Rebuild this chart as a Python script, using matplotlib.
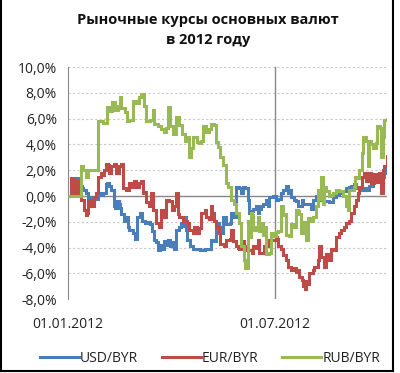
import matplotlib
matplotlib.use("Agg")
import matplotlib.pyplot as plt
from matplotlib.lines import Line2D
from matplotlib.ticker import FuncFormatter

plt.rcParams['font.family'] = ['Open Sans', 'DejaVu Sans']

# days since 01.01.2012, change of rate in %
usd_days = [0, 4, 5, 7, 9, 11, 12, 13, 14, 16, 18, 20, 22, 23, 25, 26, 29, 31, 33, 34,
            36, 38, 40, 41, 43, 45, 46, 47, 49, 51, 53, 54, 57, 59, 61, 63, 65, 68, 70, 72,
            74, 76, 77, 79, 81, 83, 84, 86, 88, 90, 91, 93, 95, 98, 99, 101, 102, 104, 105, 107,
            110, 116, 120, 124, 126, 128, 130, 133, 134, 136, 139, 142, 143, 145, 146, 148, 150, 152, 154, 156,
            158, 159, 161, 163, 165, 167, 168, 170, 171, 174, 176, 177, 180, 183, 185, 187, 189, 191, 192, 193,
            194, 196, 199, 200, 202, 205, 206, 207, 211, 214, 215, 218, 220, 224, 225, 229, 233, 236, 238, 242,
            244, 247, 249, 251, 253, 256, 258, 261, 264, 265, 268, 269, 273, 275, 277, 278, 280]
usd_vals = [0.0, 0.3, 1.0, 1.4, 1.2, 0.8, 0.6, 0.5, 0.5, 0.2, -0.1, -0.5, -0.6, -0.1, -0.2, 0.2, 0.1, 0.2, 0.9, 1.0,
            0.8, 0.5, -0.8, -0.9, -0.4, -0.6, -0.9, -1.4, -1.9, -1.6, -2.4, -2.6, -2.9, -3.3, -1.6, -1.3, -1.9, -2.1, -2.0, -2.2,
            -2.7, -3.4, -3.6, -4.2, -3.8, -4.1, -3.5, -3.8, -3.4, -3.9, -3.6, -4.1, -2.6, -2.4, -2.1, -2.3, -1.6, -2.6, -3.4, -3.9,
            -4.1, -4.2, -4.1, -4.1, -3.4, -3.5, -2.1, -2.4, -2.9, -1.6, -2.2, -2.1, -1.3, -1.3, -1.6, 0.7, 0.6, 0.2, 0.7, 0.6,
            -0.3, -1.3, -1.2, -1.0, -0.8, -1.3, -1.0, -0.8, -0.6, -0.3, -0.8, -0.1, 0.0, -0.3, -0.2, 0.2, 0.5, 0.5, 0.8, 0.2,
            0.5, -0.1, -0.3, -0.4, -0.8, -0.8, -0.3, -0.6, -0.6, -1.0, -0.3, 0.0, -0.3, -0.2, -0.4, -0.5, -0.1, 0.1, 0.2, 0.4,
            0.6, 0.7, 0.8, 0.9, 0.6, 0.6, 0.5, 0.6, 0.5, 0.8, 1.0, 1.1, 1.2, 0.5, 1.5, 1.8, 2.3]

eur_days = [0, 2, 3, 4, 5, 7, 9, 11, 13, 14, 16, 17, 18, 20, 22, 23, 25, 26, 29, 31,
            32, 33, 35, 36, 38, 40, 42, 45, 47, 48, 51, 54, 55, 58, 60, 62, 64, 66, 67, 69,
            71, 73, 75, 77, 80, 82, 84, 86, 89, 91, 93, 95, 97, 98, 101, 105, 106, 110, 111, 113,
            115, 117, 120, 121, 124, 126, 127, 128, 130, 133, 134, 137, 139, 142, 143, 145, 148, 149, 150, 152,
            155, 156, 162, 163, 165, 167, 168, 171, 172, 176, 180, 183, 184, 185, 187, 189, 192, 193, 196, 198,
            200, 202, 203, 206, 207, 208, 209, 211, 212, 215, 216, 220, 221, 222, 225, 227, 229, 231, 234, 236,
            238, 240, 243, 244, 247, 249, 251, 253, 255, 256, 258, 260, 262, 264, 266, 268, 269, 271, 272, 273,
            275, 277, 278, 280]
eur_vals = [0.0, 0.0, 1.4, 1.3, 0.2, 1.2, 0.2, -0.3, -0.3, -1.1, -1.5, -1.3, -0.3, -0.8, -0.8, -0.1, 0.2, 1.5, 1.8, 1.6,
            2.0, 2.5, 2.4, 1.8, 2.3, 2.5, 1.8, 2.3, 2.5, 0.6, 0.5, 1.0, 0.7, 1.2, 0.7, 1.0, 1.2, 0.2, 0.3, -0.5,
            -0.8, 0.2, -1.1, -2.1, -2.4, -1.1, -1.6, -0.3, -0.4, -1.1, -0.8, 0.2, -1.4, -1.6, -1.9, -2.1, -2.6, -2.9, -2.4, -2.9,
            -2.5, -1.3, -1.1, -1.6, -1.8, -0.8, -1.3, -1.9, -2.4, -2.9, -3.7, -3.9, -3.4, -3.3, -2.6, -3.5, -3.9, -4.0, -4.1, -3.5,
            -3.9, -4.2, -4.4, -3.9, -4.0, -3.4, -4.4, -4.4, -3.9, -3.4, -3.4, -3.2, -3.3, -3.9, -4.1, -4.6, -5.0, -5.5, -5.7, -5.6,
            -5.9, -5.7, -6.3, -6.5, -7.0, -7.2, -6.6, -6.8, -6.0, -5.7, -5.5, -5.0, -3.9, -4.7, -5.5, -4.5, -5.0, -4.1, -4.2, -3.2,
            -2.9, -2.6, -2.4, -2.1, -1.9, -1.3, -0.8, -0.3, 0.2, 0.7, 1.5, 1.8, 1.2, 1.8, 1.0, 1.0, 1.7, 1.1, 1.2, 1.8,
            0.2, 2.0, 2.3, 3.1]

rub_days = [0, 9, 11, 13, 16, 18, 25, 26, 31, 34, 37, 39, 41, 44, 46, 47, 50, 52, 54, 57,
            60, 62, 64, 67, 69, 72, 75, 76, 79, 82, 84, 86, 88, 90, 92, 95, 98, 100, 103, 105,
            106, 108, 110, 113, 115, 117, 119, 121, 124, 126, 128, 130, 132, 134, 136, 139, 141, 143, 146, 148,
            150, 152, 155, 156, 158, 159, 161, 162, 163, 165, 167, 168, 170, 171, 172, 174, 177, 178, 181, 183,
            185, 187, 189, 191, 192, 194, 196, 199, 200, 202, 203, 205, 207, 209, 211, 214, 215, 218, 220, 221,
            222, 224, 225, 227, 229, 231, 233, 236, 238, 242, 244, 246, 247, 251, 252, 255, 256, 258, 259, 262,
            264, 265, 266, 268, 271, 272, 274, 275, 277, 278, 280]
rub_vals = [0.0, 0.0, 2.3, 2.0, 1.5, 2.0, 2.0, 5.8, 5.7, 6.9, 6.6, 7.3, 6.7, 7.0, 7.7, 6.8, 6.5, 5.8, 5.9, 7.4,
            7.2, 7.7, 7.95, 7.0, 5.8, 5.9, 6.7, 5.6, 5.4, 5.2, 5.0, 5.3, 6.9, 5.4, 4.8, 6.1, 5.5, 4.8, 4.3, 4.6,
            3.0, 3.7, 4.6, 4.2, 4.1, 4.3, 5.4, 5.0, 5.2, 5.6, 5.5, 4.2, 3.8, 3.0, 2.4, 1.0, 0.7, -0.3, -0.6, -1.3,
            -2.1, -3.9, -5.0, -5.6, -1.9, -3.2, -1.3, -1.5, -2.6, -2.4, -1.6, -2.7, -2.1, -3.0, -2.4, -4.5, -4.4, -2.9, -3.1, -2.8,
            -2.7, -0.8, -1.5, -1.4, -3.0, -3.1, -2.2, -2.4, -1.1, -1.2, -1.4, -2.9, -2.0, -3.4, -1.7, -1.9, -1.6, -0.8, 0.5, -0.2,
            1.5, -0.6, 0.7, 0.4, 0.0, 0.1, 0.2, 0.5, 0.4, 0.0, -0.8, -1.1, 0.5, 0.7, 1.5, 1.4, 2.0, 3.3, 4.6, 4.3,
            2.3, 4.3, 4.0, 3.7, 4.1, 5.4, 5.3, 3.0, 4.6, 5.9, 6.0]

series = [("USD/BYR", usd_days, usd_vals, "#4A7EBB"),
          ("EUR/BYR", eur_days, eur_vals, "#BE4B48"),
          ("RUB/BYR", rub_days, rub_vals, "#98B954")]

tick_days = [0, 182]
tick_labels = ["01.01.2012", "01.07.2012"]

fig = plt.figure(figsize=(4.0, 3.73), dpi=100)
ax = fig.add_axes([0.17, 0.198, 0.7975, 0.622])

for name, d, v, c in series:
    ax.plot(d, v, color=c, lw=2.2, drawstyle="steps-post", label=name, zorder=3,
            solid_joinstyle="miter")

ax.set_xlim(0, 280.4)
ax.set_ylim(-8, 10)
ax.set_yticks(range(-8, 11, 2))
ax.yaxis.set_major_formatter(FuncFormatter(lambda y, p: f"{y:.1f}%".replace(".", ",")))
ax.grid(axis="y", color="#c8c8c8", ls=(0, (2, 2)), lw=0.8)
ax.axhline(0, color="#888888", lw=1.0, zorder=2)
ax.axvline(182, color="#888888", lw=1.0, zorder=2)
for s in ["top", "right", "bottom"]:
    ax.spines[s].set_visible(False)
ax.spines["left"].set_color("#888888")
ax.tick_params(axis="y", length=0, labelsize=10, pad=8, labelcolor="#222222")
ax.set_xticks(tick_days)
ax.set_xticklabels(tick_labels)
ax.tick_params(axis="x", length=0, labelsize=10, pad=13, labelcolor="#222222")

fig.text(0.52, 0.92, "Рыночные курсы основных валют\nв 2012 году", ha="center", va="center",
         fontsize=10.5, fontweight="bold", linespacing=1.6, color="#111111")

handles = [Line2D([], [], color=c, lw=2.2) for _, _, _, c in series]
fig.legend(handles, [s[0] for s in series], loc="center", bbox_to_anchor=(0.525, 0.04),
           ncol=3, frameon=False, fontsize=10, handlelength=2.8, handletextpad=0.1,
           columnspacing=1.7, labelcolor="#222222")

# frame around the picture
fig.add_artist(Line2D([0.002, 0.002], [0.005, 1.0], color="black", lw=1.5, transform=fig.transFigure))
fig.add_artist(Line2D([0.983, 0.983], [0.005, 1.0], color="black", lw=1.5, transform=fig.transFigure))
fig.add_artist(Line2D([0.002, 0.983], [0.005, 0.005], color="black", lw=1.5, transform=fig.transFigure))

fig.savefig("out.png", dpi=100, facecolor="white")
